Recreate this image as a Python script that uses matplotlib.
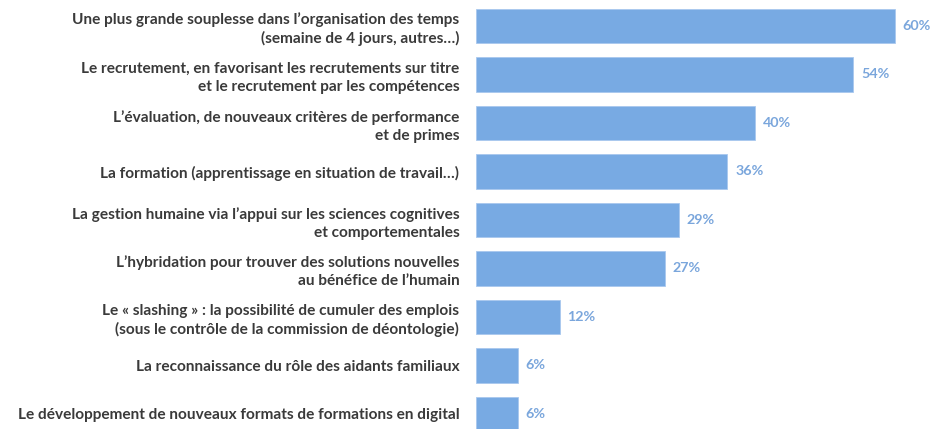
import numpy as np
import matplotlib.pyplot as plt

# Items and share of respondents (%)
labels = [
    "Une plus grande souplesse dans l\u2019organisation des temps\n(semaine de 4 jours, autres\u2026)",
    "Le recrutement, en favorisant les recrutements sur titre\net le recrutement par les compétences",
    "L\u2019évaluation, de nouveaux critères de performance\net de primes",
    "La formation (apprentissage en situation de travail\u2026)",
    "La gestion humaine via l\u2019appui sur les sciences cognitives\net comportementales",
    "L\u2019hybridation pour trouver des solutions nouvelles\nau bénéfice de l\u2019humain",
    "Le « slashing » : la possibilité de cumuler des emplois\n(sous le contrôle de la commission de déontologie)",
    "La reconnaissance du rôle des aidants familiaux",
    "Le développement de nouveaux formats de formations en digital",
]
values = [60, 54, 40, 36, 29, 27, 12, 6, 6]

bar_color = '#78aae3'
text_color = '#3a3a3a'
value_color = '#7aa6dc'

plt.rcParams['font.family'] = ['Lato', 'DejaVu Sans']

fig = plt.figure(figsize=(9.3, 4.29), dpi=100)
ax = fig.add_axes([476 / 930, 0, 454 / 930, 1])

y = np.arange(len(values))
ax.barh(y, values, height=0.72, color=bar_color, edgecolor='#a8c8ee', linewidth=0.6)

for yi, v in zip(y, values):
    ax.text(v + 1.1, yi, f"{v}%", va='center', ha='left',
            fontsize=10.3, fontweight='bold', color=value_color)

ax.set_yticks(y)
ax.set_yticklabels(labels, fontsize=11.1, fontweight='bold', color=text_color,
                   linespacing=1.33)
ax.tick_params(axis='y', length=0, pad=12)
ax.set_xticks([])
ax.set_xlim(0, 65.0)
ax.set_ylim(8.31, -0.536)
for s in ax.spines.values():
    s.set_visible(False)

fig.savefig('out.png', dpi=100)
